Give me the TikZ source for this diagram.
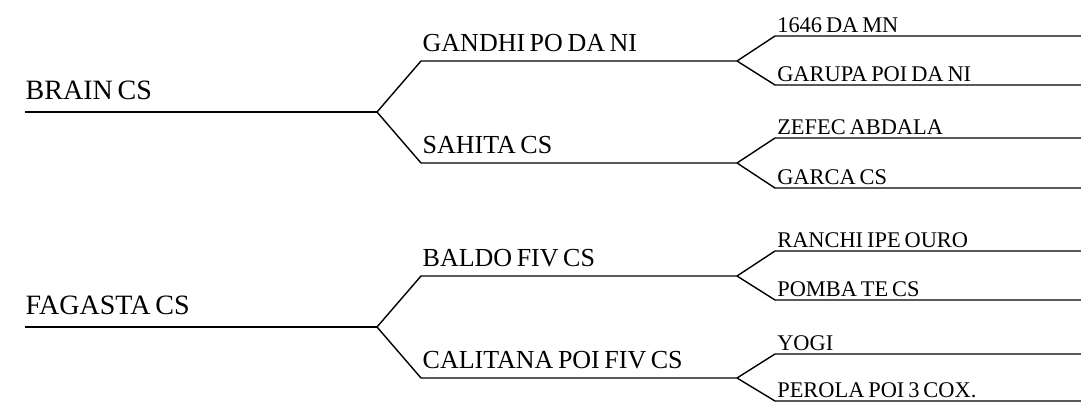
\documentclass[tikz,border=0pt]{standalone}
\usepackage{fontspec}
\setmainfont[WordSpace=0.7]{Liberation Serif}
\usetikzlibrary{positioning, calc}
\tikzset{
  every picture/.style={line width=0.7pt, x=0.5pt, y=-0.5pt},
  gen1/.style={anchor=base west, inner sep=0pt, font=\fontsize{14}{16}\selectfont},
  gen2/.style={anchor=base west, inner sep=0pt, font=\fontsize{13}{15}\selectfont},
  gen3/.style={anchor=base west, inner sep=0pt, font=\fontsize{11.2}{13}\selectfont},
}
\begin{document}
\begin{tikzpicture}
  \useasboundingbox (0,0) rectangle (1081,402);
  % first generation
  \foreach \nm/\y/\txt in {brain/112/BRAIN CS, fagasta/327/FAGASTA CS} {
    \coordinate (\nm-s) at (25,\y);
    \coordinate (\nm-e) at (377,\y);
    \draw (\nm-s) -- (\nm-e);
    \node[gen1] (\nm) at ([yshift=6.5pt]\nm-s) {\txt};
  }
  % second generation
  \foreach \from/\nm/\y/\txt in {brain/gandhi/61/GANDHI PO DA NI, brain/sahita/163/SAHITA CS,
      fagasta/baldo/276/BALDO FIV CS, fagasta/calitana/378/CALITANA POI FIV CS} {
    \coordinate (\nm-s) at (421,\y);
    \coordinate (\nm-e) at (737,\y);
    \draw (\from-e) -- (\nm-s) -- (\nm-e);
    \node[gen2] (\nm) at ([xshift=0.5pt, yshift=5pt]\nm-s) {\txt};
  }
  % third generation
  \foreach \from/\nm/\y/\txt in {gandhi/hdamn/36/1646 DA MN, gandhi/garupa/85/GARUPA POI DA NI,
      sahita/zefec/138/ZEFEC ABDALA, sahita/garca/188/GARCA CS,
      baldo/ranchi/251/RANCHI IPE OURO, baldo/pomba/300/POMBA TE CS,
      calitana/yogi/354/YOGI, calitana/perola/401/PEROLA POI 3 COX.} {
    \coordinate (\nm-s) at (775,\y);
    \coordinate (\nm-e) at (1081,\y);
    \draw (\from-e) -- (\nm-s) -- (\nm-e);
    \node[gen3] (\nm) at ([xshift=0.8pt, yshift=1.9pt]\nm-s) {\txt};
  }
\end{tikzpicture}
\end{document}
